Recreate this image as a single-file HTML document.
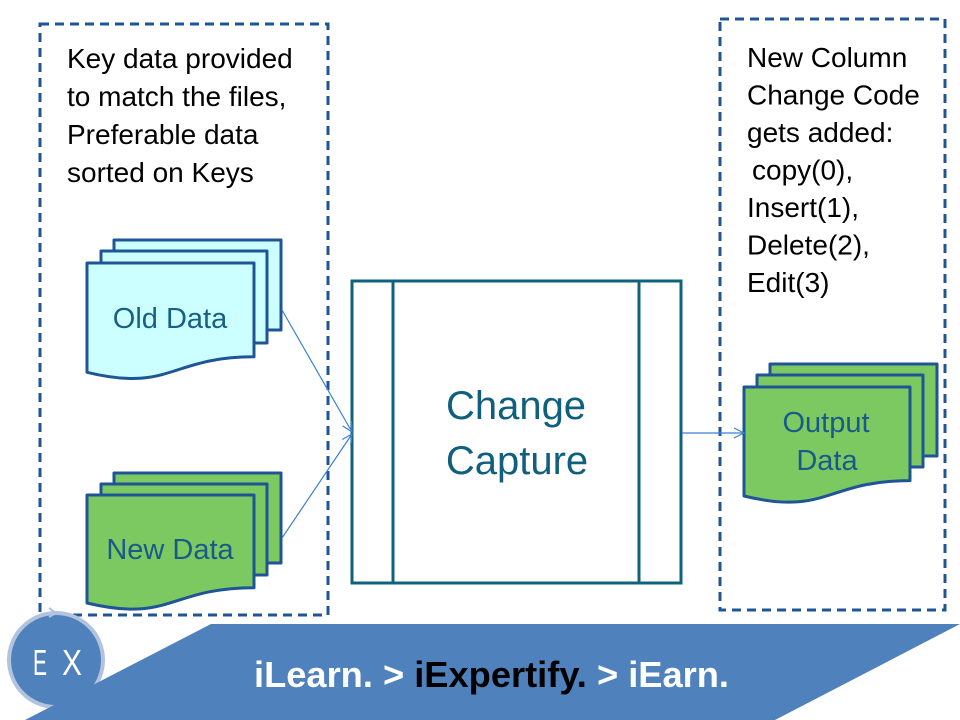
<!DOCTYPE html>
<html>
<head>
<meta charset="utf-8">
<style>
  html, body { margin: 0; padding: 0; background: #ffffff; }
  body { width: 960px; height: 720px; overflow: hidden; }
  svg { display: block; }
  text { font-family: "Liberation Sans", Arial, sans-serif; }
</style>
</head>
<body>
<svg width="960" height="720" viewBox="0 0 960 720" xmlns="http://www.w3.org/2000/svg">
  <defs>
    <marker id="arr" viewBox="0 0 12 12" refX="11" refY="6" markerWidth="12" markerHeight="12" markerUnits="userSpaceOnUse" orient="auto">
      <path d="M1,1 L11,6 L1,11" fill="none" stroke="#3a80d2" stroke-width="1.2"/>
    </marker>
  </defs>

  <!-- Dashed boxes -->
  <rect x="40" y="24" width="288" height="591" fill="none" stroke="#1f5597" stroke-width="3" stroke-dasharray="9 6"/>
  <rect x="720" y="19" width="225" height="591" fill="none" stroke="#1f5597" stroke-width="3" stroke-dasharray="9 6"/>

  <!-- Left text -->
  <g font-size="28" fill="#000">
    <text x="67" y="68">Key data provided</text>
    <text x="67" y="106">to match the files,</text>
    <text x="67" y="144">Preferable data</text>
    <text x="67" y="182">sorted on Keys</text>
  </g>

  <!-- Right text -->
  <g font-size="28" fill="#000">
    <text x="747" y="67">New Column</text>
    <text x="747" y="104.5">Change Code</text>
    <text x="747" y="142">gets added:</text>
    <text x="752" y="179.5">copy(0),</text>
    <text x="747" y="217">Insert(1),</text>
    <text x="747" y="254.5">Delete(2),</text>
    <text x="747" y="292">Edit(3)</text>
  </g>

  <!-- Old Data stack -->
  <g stroke="#1f5597" stroke-width="3" fill="#ccffff" stroke-linejoin="round">
    <rect x="114" y="240" width="167" height="90"/>
    <rect x="101" y="251" width="166" height="92"/>
    <path d="M87,263 H254 V356.8 C170.5,356.8 170.5,392.6 87,372.3 Z"/>
  </g>
  <text x="170" y="328" font-size="29" fill="#176084" text-anchor="middle">Old Data</text>

  <!-- New Data stack -->
  <g stroke="#1f5597" stroke-width="3" fill="#7cc962" stroke-linejoin="round">
    <rect x="114" y="473" width="167" height="90"/>
    <rect x="101" y="484" width="166" height="91"/>
    <path d="M87,495 H254 V587.7 C170.5,587.7 170.5,623 87,603 Z"/>
  </g>
  <text x="170" y="559" font-size="29" fill="#1a5a8a" text-anchor="middle">New Data</text>

  <!-- Output Data stack -->
  <g stroke="#1f5597" stroke-width="3" fill="#7cc962" stroke-linejoin="round">
    <rect x="770" y="364" width="167" height="92"/>
    <rect x="757" y="375" width="166" height="92"/>
    <path d="M744,387 H910 V480.6 C827,480.6 827,516.2 744,496 Z"/>
  </g>
  <text x="826" y="432" font-size="29" fill="#1a5a8a" text-anchor="middle">Output</text>
  <text x="827" y="470" font-size="29" fill="#1a5a8a" text-anchor="middle">Data</text>

  <!-- Change Capture box -->
  <g stroke="#0f6180" stroke-width="3" fill="none">
    <rect x="352" y="281" width="329" height="302" fill="#fff"/>
    <line x1="393" y1="281" x2="393" y2="583"/>
    <line x1="639" y1="281" x2="639" y2="583"/>
  </g>
  <text x="516" y="419" font-size="40" fill="#0f5f7d" text-anchor="middle">Change</text>
  <text x="517" y="474" font-size="40" fill="#0f5f7d" text-anchor="middle">Capture</text>

  <!-- Connectors -->
  <g stroke="#3a80d2" stroke-width="1.2" fill="none">
    <line x1="282" y1="310" x2="352" y2="432" marker-end="url(#arr)"/>
    <line x1="282" y1="538" x2="352" y2="434" marker-end="url(#arr)"/>
    <line x1="682" y1="433" x2="744" y2="433" marker-end="url(#arr)"/>
  </g>

  <!-- Logo circle -->
  <circle cx="56" cy="660" r="47" fill="#4f81bd" stroke="#b3c3dd" stroke-width="4"/>
  <path d="M49,608 L56,613 L49,617" fill="none" stroke="#b3c3dd" stroke-width="2"/>

  <!-- Banner -->
  <polygon points="211,624 960,624 775,720 25,720" fill="#4f81bd"/>

  <text x="33" y="675" font-size="36" fill="#fff" textLength="14" lengthAdjust="spacingAndGlyphs">E</text>
  <text x="62" y="675" font-size="36" fill="#fff" textLength="20" lengthAdjust="spacingAndGlyphs">X</text>

  <text x="254" y="687" font-size="36" font-weight="bold" textLength="475" lengthAdjust="spacingAndGlyphs"><tspan fill="#ffffff">iLearn. &gt; </tspan><tspan fill="#000000">iExpertify.</tspan><tspan fill="#ffffff"> &gt; iEarn.</tspan></text>
</svg>
</body>
</html>
